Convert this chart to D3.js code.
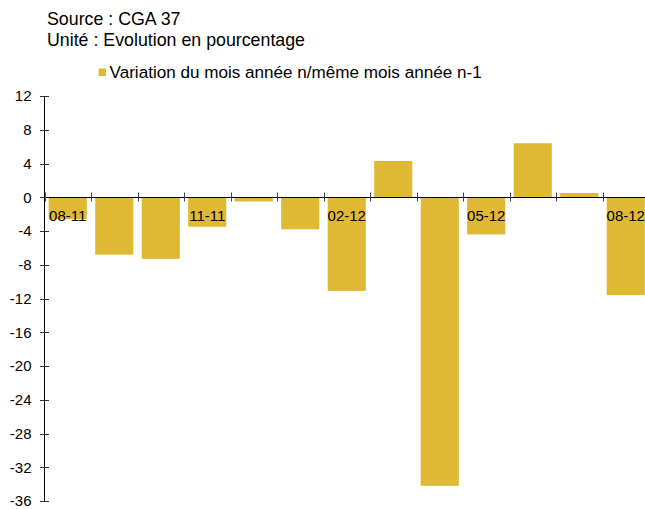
<!DOCTYPE html>
<html><head><meta charset="utf-8">
<script src="https://cdn.jsdelivr.net/npm/d3@7"></script>
<style>body{margin:0;background:#fff}svg{display:block}text{font-family:"Liberation Sans",Arial,sans-serif}</style>
</head><body>
<svg id="c" width="645" height="509"></svg>
<script>
const categories = ["08-11","09-11","10-11","11-11","12-11","01-12","02-12","03-12","04-12","05-12","06-12","07-12","08-12"];
const values = [-2.6,-6.8,-7.3,-3.5,-0.5,-3.8,-11.1,4.3,-34.2,-4.4,6.4,0.5,-11.6];
const shownLabels = ["08-11","11-11","02-12","05-12","08-12"];
const yTicks = [12,8,4,0,-4,-8,-12,-16,-20,-24,-28,-32,-36];
const titleLines = ["Source : CGA 37","Unité : Evolution en pourcentage"];
const legendLabel = "Variation du mois année n/même mois année n-1";

const svg = d3.select("#c");
const x0 = 44.5, bandW = 46.5;
const x = d3.scaleBand().domain(categories).range([x0, x0 + bandW*categories.length]).paddingInner(0.18).paddingOuter(0.09);
const y = d3.scaleLinear().domain([-36,12]).range([501,96]);
const color = "#E0B934";

svg.selectAll("text.title").data(titleLines).join("text")
  .attr("x",47).attr("y",(d,i)=>25+i*20.5).attr("font-size",17.8).attr("fill","#000").text(d=>d);

svg.append("rect").attr("x",98.5).attr("y",68.5).attr("width",7.5).attr("height",7.5).attr("fill",color);
svg.append("text").attr("x",109.5).attr("y",78).attr("font-size",17.1).attr("fill","#000").text(legendLabel);

// bars
svg.selectAll("rect.bar").data(values).join("rect").attr("class","bar")
  .attr("x",(d,i)=>x(categories[i]))
  .attr("width",x.bandwidth())
  .attr("y",d=>y(Math.max(0,d)))
  .attr("height",d=>Math.abs(y(d)-y(0)))
  .attr("fill",color);

// y axis
const yAxis = svg.append("g").attr("transform",`translate(${x0},0)`)
  .call(d3.axisLeft(y).tickValues(yTicks).tickSize(0).tickPadding(13).tickFormat(d=>String(d)));
yAxis.select(".domain").remove();
yAxis.selectAll("text").attr("font-size",15).attr("fill","#000").attr("font-family","Liberation Sans, Arial, sans-serif");
svg.append("line").attr("x1",x0).attr("x2",x0).attr("y1",y(12)).attr("y2",y(-36)+1).attr("stroke","#000").attr("stroke-width",1);
svg.selectAll("line.yt").data(yTicks).join("line")
  .attr("x1",x0-4.5).attr("x2",x0+4.5).attr("y1",d=>Math.round(y(d))+0.5).attr("y2",d=>Math.round(y(d))+0.5)
  .attr("stroke","#333").attr("stroke-width",1);

// x axis at zero
const zy = Math.round(y(0))+0.5;
svg.append("line").attr("x1",x0).attr("x2",645).attr("y1",zy).attr("y2",zy).attr("stroke","#000").attr("stroke-width",1.2);
const bounds = categories.map((c,i)=>x0 + i*bandW).concat([x0+bandW*categories.length]);
svg.selectAll("line.xt").data(bounds).join("line")
  .attr("x1",d=>Math.round(d)+0.5).attr("x2",d=>Math.round(d)+0.5).attr("y1",zy-5).attr("y2",zy+4)
  .attr("stroke","#444").attr("stroke-width",1);
svg.selectAll("text.xl").data(categories.filter(c=>shownLabels.includes(c))).join("text")
  .attr("x",d=>x(d)+x.bandwidth()/2).attr("y",221).attr("text-anchor","middle")
  .attr("font-size",15).attr("fill","#000").text(d=>d);
</script>
</body></html>
